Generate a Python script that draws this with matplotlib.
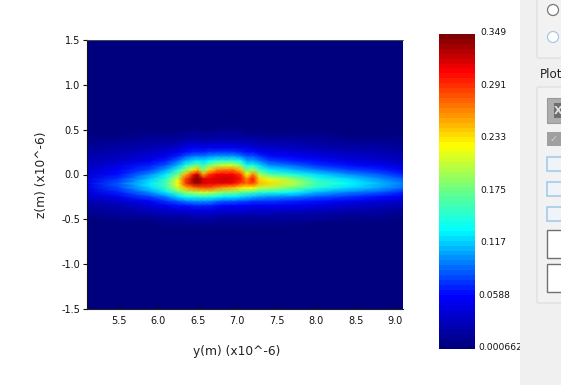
import numpy as np
import matplotlib
matplotlib.use('Agg')
import matplotlib.pyplot as plt
from matplotlib.colors import LinearSegmentedColormap
from matplotlib.patches import Rectangle, Circle, FancyBboxPatch
from matplotlib.transforms import ScaledTranslation

W, H = 561, 385

# positions of the columns (um) and rows (um)
y_um = [5.1, 5.5, 5.9, 6.1, 6.25, 6.35, 6.45, 6.5, 6.57, 6.65, 6.75, 6.85, 6.95,
        7.05, 7.12, 7.2, 7.28, 7.4, 7.7, 8.0, 8.4, 8.8, 9.1]
z_um = [1.5, 0.55, 0.50, 0.45, 0.40, 0.35, 0.30, 0.25, 0.20, 0.15, 0.10, 0.05, 0.0,
        -0.05, -0.10, -0.15, -0.20, -0.25, -0.30, -0.35, -0.40, -0.45, -0.50, -0.55, -0.60, -1.5]

# one profile per y column, from z=0.55 down to z=-0.60
profiles = [
    [.001, .002, .004, .006, .01, .014, .018, .022, .027, .031, .036, .041, .046, .05, .048, .042, .034, .026, .019, .013, .008, .005, .002, .001],
    [.001, .002, .005, .009, .014, .019, .025, .031, .038, .046, .055, .065, .076, .084, .08, .066, .051, .038, .027, .018, .011, .006, .003, .001],
    [.002, .004, .007, .012, .018, .025, .033, .042, .053, .066, .081, .098, .116, .128, .122, .102, .077, .057, .041, .028, .018, .01, .005, .002],
    [.002, .004, .008, .014, .021, .031, .041, .054, .069, .087, .107, .127, .15, .163, .155, .126, .096, .071, .05, .034, .022, .013, .006, .002],
    [.002, .005, .009, .016, .026, .038, .053, .07, .091, .114, .143, .177, .209, .226, .207, .165, .122, .087, .061, .04, .026, .015, .008, .003],
    [.002, .005, .011, .019, .03, .045, .063, .084, .11, .145, .19, .245, .285, .29, .248, .19, .137, .096, .064, .042, .027, .016, .008, .003],
    [.002, .006, .012, .02, .033, .05, .07, .095, .125, .17, .232, .3, .335, .33, .27, .2, .142, .098, .066, .044, .028, .017, .009, .003],
    [.002, .006, .012, .02, .033, .05, .07, .095, .128, .175, .25, .325, .345, .335, .275, .205, .142, .098, .066, .044, .028, .017, .009, .003],
    [.002, .005, .011, .019, .032, .048, .068, .095, .12, .15, .18, .255, .318, .318, .28, .21, .147, .1, .067, .045, .028, .017, .009, .003],
    [.002, .005, .012, .02, .033, .05, .072, .1, .135, .182, .236, .29, .315, .315, .28, .205, .142, .098, .066, .044, .028, .017, .009, .003],
    [.003, .007, .013, .021, .034, .052, .074, .105, .15, .2, .262, .305, .32, .312, .265, .195, .137, .092, .062, .043, .027, .016, .008, .003],
    [.003, .007, .014, .021, .033, .05, .072, .105, .152, .21, .268, .31, .325, .312, .255, .185, .13, .085, .059, .041, .026, .016, .008, .003],
    [.003, .007, .014, .021, .033, .05, .072, .105, .152, .21, .268, .31, .318, .306, .245, .18, .127, .082, .057, .041, .026, .016, .008, .003],
    [.003, .006, .012, .02, .032, .048, .068, .097, .133, .185, .243, .287, .3, .287, .23, .17, .122, .08, .056, .04, .025, .015, .007, .003],
    [.002, .005, .01, .018, .029, .044, .062, .084, .108, .14, .178, .22, .265, .275, .225, .165, .117, .078, .055, .039, .024, .015, .007, .002],
    [.002, .005, .01, .018, .028, .043, .06, .082, .108, .145, .195, .262, .3, .288, .225, .16, .112, .076, .054, .038, .024, .014, .007, .002],
    [.002, .005, .009, .017, .026, .038, .053, .071, .093, .12, .157, .2, .236, .246, .205, .15, .107, .074, .052, .037, .023, .014, .007, .002],
    [.002, .004, .008, .016, .025, .035, .048, .063, .081, .101, .13, .168, .213, .236, .2, .145, .102, .072, .052, .036, .022, .013, .006, .002],
    [.001, .004, .008, .015, .023, .032, .043, .056, .07, .088, .11, .145, .186, .205, .178, .132, .094, .067, .049, .034, .021, .013, .006, .002],
    [.001, .004, .007, .012, .019, .027, .037, .048, .061, .076, .097, .12, .145, .158, .146, .112, .082, .062, .045, .032, .02, .011, .005, .001],
    [.001, .003, .005, .009, .015, .021, .029, .038, .048, .062, .08, .101, .123, .136, .124, .097, .072, .052, .037, .025, .015, .008, .004, .001],
    [.001, .002, .004, .007, .012, .017, .023, .03, .039, .05, .066, .083, .101, .114, .104, .082, .06, .043, .029, .019, .011, .006, .002, .001],
    [.001, .002, .003, .006, .009, .013, .018, .024, .031, .041, .053, .068, .085, .097, .088, .069, .05, .035, .023, .014, .008, .004, .002, .001],
]

cbar_ticks = [0.000662, 0.0588, 0.117, 0.175, 0.233, 0.291, 0.349]
cbar_labels = ['0.000662', '0.0588', '0.117', '0.175', '0.233', '0.291', '0.349']
x_ticks = [5.5, 6.0, 6.5, 7.0, 7.5, 8.0, 8.5, 9.0]
z_ticks = [-1.5, -1.0, -0.5, 0.0, 0.5, 1.0, 1.5]

cmap = LinearSegmentedColormap.from_list('lumerical_jet', [
    (0.0, '#00007f'), (0.165, '#0000ff'), (0.378, '#00ffff'), (0.50, '#66ff88'),
    (0.648, '#ffff00'), (0.885, '#ff0000'), (1.0, '#7f0000')], N=64)


def px_axes(fig, left, top, right, bottom):
    return fig.add_axes([left / W, 1 - bottom / H, (right - left) / W, (bottom - top) / H])


fig = plt.figure(figsize=(W / 100, H / 100), dpi=100, facecolor='white')

# intensity map, rows at +-1.5 stay at the floor value
grid = np.array(profiles).T
grid = np.vstack([np.zeros(grid.shape[1]), grid, np.zeros(grid.shape[1])]) + 0.000662
ax = px_axes(fig, 87, 40, 403, 309)
mesh = ax.pcolormesh(y_um, z_um, grid, cmap=cmap, vmin=0.000662, vmax=0.349, shading='gouraud')
ax.set_xlim(5.1, 9.1)
ax.set_ylim(-1.5, 1.5)
ax.set_xticks(x_ticks)
ax.set_xticklabels(['%.1f' % t for t in x_ticks])
ax.set_yticks(z_ticks)
ax.set_yticklabels(['%.1f' % t for t in z_ticks])
ax.tick_params(axis='x', direction='in', length=2, width=0.8, labelsize=7, pad=5, colors='#111111')
ax.tick_params(axis='y', direction='out', length=3, width=0.8, labelsize=7, pad=2, colors='#111111')
ax.set_xlabel('y(m) (x10^-6)', fontsize=8.8, color='#222222')
ax.xaxis.set_label_coords(0.473, -0.135)
ax.set_ylabel('z(m) (x10^-6)', fontsize=8.8, color='#222222')
ax.yaxis.set_label_coords(-0.125, 0.5)
ax.spines['top'].set_color('#555555')
ax.spines['top'].set_linewidth(0.6)
ax.spines['right'].set_visible(False)
ax.spines['left'].set_color('#111111')
ax.spines['bottom'].set_color('#222222')

# colorbar, labels sit 2px above their level in the reference
cax = px_axes(fig, 439, 34, 475, 349)
cbar = fig.colorbar(mesh, cax=cax, ticks=cbar_ticks)
cbar.ax.set_yticklabels(cbar_labels)
cbar.ax.tick_params(length=0, labelsize=6.6, pad=4, colors='#111111')
cbar.outline.set_visible(False)
for lab, txt in zip(cbar.ax.get_yticklabels(), cbar_labels):
    dx = -2 if txt in ('0.000662', '0.0588') else 0
    lab.set_transform(lab.get_transform() + ScaledTranslation(dx / 100, 2 / 100, fig.dpi_scale_trans))

# window panel on the right
ui = fig.add_axes([0, 0, 1, 1], zorder=5)
ui.set_xlim(0, W)
ui.set_ylim(H, 0)
ui.axis('off')
ui.add_patch(Rectangle((520, 0), 41, H, fc='#f1f0f0', ec='none'))
ui.add_patch(FancyBboxPatch((537, -10), 40, 68, boxstyle='round,pad=0,rounding_size=1.5',
                            fc='#f3f2f2', ec='#dcdcdc', lw=0.8))
ui.add_patch(FancyBboxPatch((537, 87), 40, 216, boxstyle='round,pad=0,rounding_size=1.5',
                            fc='#f3f2f2', ec='#dcdcdc', lw=0.8))
ui.add_patch(Circle((553, 10), 5.5, fc='white', ec='#777777', lw=0.9))
ui.add_patch(Circle((553, 37), 5.5, fc='white', ec='#a8c8e8', lw=0.9))
ui.text(540, 74, 'Plot', fontsize=8.6, color='#222222', va='center', clip_on=True)
ui.add_patch(Rectangle((547, 98), 20, 25, fc='#adadad', ec='#9a9a9a', lw=0.8))
ui.add_patch(Rectangle((554, 103), 10, 15, fc='#6e6e6e', ec='none'))
ui.text(558, 111, 'X', fontsize=8, color='#e0e0e0', weight='bold', ha='center', va='center', clip_on=True)
ui.add_patch(Rectangle((547, 132), 20, 14, fc='#a0a0a0', ec='none'))
ui.text(554, 139, '\u2713', fontsize=7, color='#cfcfcf', ha='center', va='center')
for top in [157, 182, 207]:
    ui.add_patch(Rectangle((547.5, top), 20, 14, fc='#f0f3f7', ec='#9cc8ea', lw=1.1))
for top, bottom in [(230, 258), (264, 292)]:
    ui.add_patch(Rectangle((547.5, top), 20, bottom - top, fc='white', ec='#707070', lw=1.0))

fig.savefig('out.png', dpi=100)
